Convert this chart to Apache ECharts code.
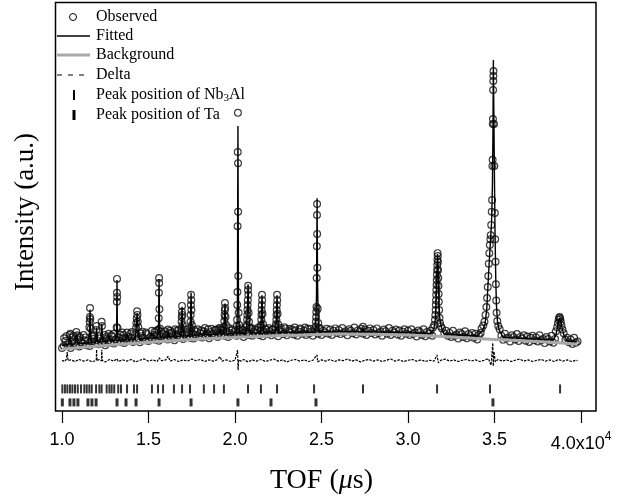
<!DOCTYPE html>
<html><head><meta charset="utf-8">
<script src="https://cdn.jsdelivr.net/npm/echarts@6/dist/echarts.min.js"></script>
<style>html,body{margin:0;padding:0;background:#fff}#c{width:618px;height:504px}</style>
</head><body><div id="c"></div>
<script>
// ---- data (TOF in units of 10^4 us, intensity in arbitrary units) ----
const xTicks = [1.0, 1.5, 2.0, 2.5, 3.0, 3.5, 4.0];
const xExponent = '4';

const observedBase = [[1.00,15.4],[1.01,15.9],[1.02,17.1],[1.03,16.1],[1.04,16.4],[1.05,15.4],[1.06,17.0],[1.07,16.6],[1.08,16.0],[1.09,17.5],
[1.10,15.8],[1.11,16.8],[1.12,16.5],[1.13,17.3],[1.14,16.1],[1.15,17.2],[1.16,15.9],[1.17,17.0],[1.18,17.6],[1.19,16.5],
[1.20,17.3],[1.21,16.3],[1.22,17.8],[1.23,16.8],[1.24,17.1],[1.25,16.1],[1.26,17.7],[1.27,17.3],[1.28,16.7],[1.29,18.2],
[1.30,16.5],[1.31,17.5],[1.32,17.1],[1.33,18.0],[1.34,16.8],[1.35,17.8],[1.36,16.6],[1.37,17.6],[1.38,18.2],[1.39,17.2],
[1.40,17.9],[1.41,16.9],[1.42,18.5],[1.43,17.4],[1.44,17.7],[1.45,16.8],[1.46,18.3],[1.47,17.9],[1.48,17.3],[1.49,18.8],
[1.50,17.1],[1.51,18.1],[1.52,17.8],[1.53,18.6],[1.54,17.4],[1.55,18.4],[1.56,17.2],[1.57,18.2],[1.58,18.8],[1.59,17.7],
[1.60,18.5],[1.61,17.5],[1.62,19.0],[1.63,18.0],[1.64,18.3],[1.65,17.3],[1.66,18.8],[1.67,18.5],[1.68,17.9],[1.69,19.3],
[1.70,17.6],[1.71,18.7],[1.72,18.3],[1.73,19.1],[1.74,17.9],[1.75,19.0],[1.76,17.7],[1.77,18.7],[1.78,19.4],[1.79,18.3],
[1.80,19.0],[1.81,18.0],[1.82,19.5],[1.83,18.5],[1.84,18.8],[1.85,17.8],[1.86,19.3],[1.87,18.9],[1.88,18.4],[1.89,19.8],
[1.90,18.1],[1.91,19.1],[1.92,18.7],[1.93,19.6],[1.94,18.4],[1.95,19.4],[1.96,18.1],[1.97,19.1],[1.98,19.7],[1.99,18.7],
[2.00,19.4],[2.01,18.4],[2.02,19.9],[2.03,18.8],[2.04,19.1],[2.05,18.1],[2.06,19.6],[2.07,19.2],[2.08,18.6],[2.09,20.1],
[2.10,18.4],[2.11,19.4],[2.12,19.0],[2.13,19.8],[2.14,18.6],[2.15,19.6],[2.16,18.3],[2.17,19.3],[2.18,19.9],[2.19,18.8],
[2.20,19.5],[2.21,18.5],[2.22,20.0],[2.23,19.0],[2.24,19.3],[2.25,18.3],[2.26,19.8],[2.27,19.4],[2.28,18.8],[2.29,20.2],
[2.30,18.5],[2.31,19.5],[2.32,19.1],[2.33,19.9],[2.34,18.7],[2.35,19.7],[2.36,18.4],[2.37,19.4],[2.38,20.0],[2.39,18.9],
[2.40,19.6],[2.41,18.6],[2.42,20.1],[2.43,19.0],[2.44,19.4],[2.45,18.4],[2.46,19.9],[2.47,19.5],[2.48,18.9],[2.49,20.3],
[2.50,18.6],[2.51,19.6],[2.52,19.2],[2.53,20.1],[2.54,18.9],[2.55,19.9],[2.56,18.6],[2.57,19.6],[2.58,20.2],[2.59,19.1],
[2.60,19.8],[2.61,18.8],[2.62,20.3],[2.63,19.2],[2.64,19.5],[2.65,18.5],[2.66,20.0],[2.67,19.6],[2.68,19.0],[2.69,20.4],
[2.70,18.7],[2.71,19.7],[2.72,19.3],[2.73,20.1],[2.74,18.9],[2.75,19.9],[2.76,18.6],[2.77,19.6],[2.78,20.2],[2.79,19.1],
[2.80,19.8],[2.81,18.7],[2.82,20.2],[2.83,19.1],[2.84,19.4],[2.85,18.4],[2.86,19.9],[2.87,19.5],[2.88,18.9],[2.89,20.3],
[2.90,18.6],[2.91,19.6],[2.92,19.2],[2.93,19.9],[2.94,18.7],[2.95,19.7],[2.96,18.4],[2.97,19.4],[2.98,20.0],[2.99,18.9],
[3.00,19.6],[3.01,18.6],[3.02,20.0],[3.03,18.9],[3.04,19.2],[3.05,18.2],[3.06,19.7],[3.07,19.3],[3.08,18.6],[3.09,20.0],
[3.10,18.3],[3.11,19.3],[3.12,18.9],[3.13,19.6],[3.14,18.4],
[3.21,19.0],[3.22,19.6],[3.23,18.4],[3.24,19.1],[3.25,18.1],[3.26,19.6],[3.27,18.4],[3.28,18.7],[3.29,17.7],
[3.30,19.2],[3.31,18.8],[3.32,18.1],[3.33,19.5],[3.34,17.8],[3.35,18.8],[3.36,18.3],[3.37,19.1],[3.38,17.9],[3.39,18.9],
[3.40,17.5],[3.41,18.5],[3.42,19.1],
[3.54,18.4],[3.55,17.4],[3.56,18.9],[3.57,17.8],[3.58,18.0],[3.59,17.0],
[3.60,18.5],[3.61,18.1],[3.62,17.5],[3.63,18.8],[3.64,17.1],[3.65,18.1],[3.66,17.7],[3.67,18.5],[3.68,17.2],[3.69,18.2],
[3.70,16.9],[3.71,17.9],[3.72,18.4],[3.73,17.3],[3.74,18.0],[3.75,17.0],[3.76,18.5],[3.77,17.3],[3.78,17.6],[3.79,16.6],
[3.80,18.1],[3.81,17.6],[3.82,17.0],[3.83,18.4],[3.84,16.7],[3.85,17.6],
[3.91,17.4],[3.92,17.9],[3.93,16.8],[3.94,17.5],[3.95,16.4],[3.96,17.9],[3.97,16.7],[3.98,17.0]];

// weak unresolved reflections riding on the baseline (1.0 - 2.45)
const observedWeak = [[1.012,17.8],[1.025,18.3],[1.055,17.9],[1.065,18.4],[1.098,18.2],[1.105,17.9],[1.125,18.6],[1.135,18.0],[1.172,18.2],[1.185,18.5],[1.212,18.3],[1.245,18.6],[1.255,18.1],[1.285,18.5],[1.298,18.9],[1.335,18.7],[1.348,19.2],[1.355,18.6],[1.395,18.9],[1.405,19.3],[1.455,19.0],[1.465,19.4],[1.485,19.2],[1.535,19.3],[1.545,19.6],[1.575,19.4],[1.595,19.5],[1.625,19.6],[1.635,19.2],[1.665,19.7],[1.675,19.8],[1.715,19.9],[1.725,19.4],[1.765,19.8],[1.785,20.0],[1.805,19.7],[1.845,20.0],[1.865,20.1],[1.885,19.8],[1.905,20.2],[1.925,19.9],[1.965,20.3],[1.985,20.0],[2.035,20.2],[2.045,19.8],[2.095,20.3],[2.115,20.0],[2.135,20.4],[2.175,20.1],[2.195,20.3],[2.215,19.9],[2.265,20.3],[2.285,20.5],[2.315,20.1],[2.345,20.4],[2.375,20.2],[2.405,20.4],[2.435,20.1]];

const observedPeaks = [[1.044,18.6],[1.048,18.9],[1.083,19.3],[1.088,18.5],
[1.158,20.5],[1.160,21.8],[1.161,23.0],[1.162,25.2],[1.164,22.5],[1.166,20.2],
[1.198,19.8],[1.200,20.8],[1.229,21.8],[1.231,20.8],[1.270,18.9],
[1.316,20.5],[1.317,26.7],[1.3175,28.9],[1.318,32.3],[1.319,27.9],[1.321,20.3],[1.376,19.2],
[1.428,20.3],[1.430,21.5],[1.432,22.7],[1.434,24.4],[1.436,23.5],[1.438,21.8],[1.441,20.5],[1.520,19.6],
[1.557,19.9],[1.559,22.7],[1.560,28.9],[1.561,32.5],[1.5615,31.3],[1.563,24.9],[1.566,20.2],
[1.613,19.9],[1.654,20.0],
[1.689,20.2],[1.691,21.8],[1.692,23.0],[1.693,24.2],[1.694,25.7],[1.696,23.5],[1.698,21.0],
[1.741,20.3],[1.743,21.8],[1.744,23.5],[1.745,25.9],[1.746,28.4],[1.747,27.1],[1.748,24.7],[1.751,21.0],
[1.826,20.3],[1.913,20.3],[1.917,19.9],
[1.936,20.5],[1.938,22.0],[1.940,23.5],[1.941,24.6],[1.942,26.4],[1.943,25.2],[1.945,23.0],[1.948,21.0],
[2.010,20.8],[2.012,22.3],[2.013,25.9],[2.014,29.1],[2.015,45.2],[2.016,63.3],[2.017,72.9],[2.0175,60.6],[2.018,48.7],[2.019,33.0],[2.021,24.0],[2.024,21.0],
[2.066,20.5],[2.068,21.0],[2.070,22.3],[2.071,23.5],[2.072,24.7],[2.073,25.9],[2.074,27.1],[2.075,29.6],[2.076,30.6],[2.077,28.4],[2.079,24.0],[2.081,21.8],[2.084,20.4],
[2.148,20.5],[2.150,21.0],[2.152,22.3],[2.153,23.5],[2.154,24.7],[2.155,25.9],[2.156,28.4],[2.157,27.1],[2.159,23.8],[2.162,21.2],
[2.235,20.5],[2.237,21.2],[2.239,22.3],[2.240,23.5],[2.241,24.7],[2.242,25.9],[2.243,28.4],[2.244,27.1],[2.246,23.8],[2.249,21.2],
[2.466,20.6],[2.468,21.8],[2.469,23.0],[2.470,24.2],[2.471,25.4],[2.472,32.5],[2.473,40.3],[2.474,47.9],[2.4745,50.6],[2.475,43.3],[2.476,35.0],[2.478,25.0],[2.481,21.5],[2.485,20.2],
[2.740,20.6],
[3.145,20.4],[3.152,21.0],[3.156,22.3],[3.158,23.5],[3.160,24.7],[3.161,26.0],[3.162,27.1],[3.163,28.4],[3.164,29.6],[3.165,30.8],[3.166,32.0],[3.167,33.3],[3.168,34.5],[3.169,35.7],[3.170,37.0],[3.171,38.6],[3.172,37.9],[3.173,36.4],[3.174,34.5],[3.175,32.5],[3.176,30.6],[3.177,28.6],[3.178,26.7],[3.180,24.7],[3.182,22.8],[3.185,21.5],[3.190,20.7],[3.197,20.2],
[3.425,20.2],[3.435,20.9],[3.442,21.8],[3.448,23.5],[3.453,25.4],[3.457,27.6],[3.461,30.3],[3.464,33.0],[3.467,36.0],[3.470,38.6],[3.473,40.6],[3.476,42.0],[3.478,43.0],[3.481,45.5],[3.484,48.7],[3.486,51.6],[3.488,59.9],[3.489,61.4],[3.490,70.2],[3.491,71.4],[3.492,78.5],[3.493,80.7],[3.4935,81.9],[3.494,83.1],
[3.497,70.2],[3.499,59.9],[3.502,48.4],[3.504,42.0],[3.506,36.5],[3.508,31.0],[3.510,27.0],[3.512,24.0],[3.516,22.0],[3.522,20.8],[3.530,20.0],
[3.855,19.5],[3.862,20.5],[3.867,21.5],[3.871,22.3],[3.874,22.8],[3.877,23.0],[3.880,22.5],[3.883,21.8],[3.887,20.9],[3.893,19.9],[3.900,19.0]];

const fitted = [[1.000,16.0],[1.038,16.29],[1.046,18.2],[1.054,16.34],[1.076,16.42],[1.085,18.6],[1.094,16.48],[1.120,16.57],[1.155,16.69],[1.159,19.5],[1.162,24.8],[1.165,19.5],[1.170,16.75],[1.195,16.83],[1.200,20.4],[1.205,16.87],[1.224,16.93],[1.230,21.3],[1.236,16.97],[1.262,17.05],[1.270,18.3],[1.278,17.11],[1.312,17.22],[1.316,20.0],[1.318,32.0],[1.320,20.0],[1.325,17.26],[1.368,17.4],[1.376,18.8],[1.384,17.45],[1.422,17.56],[1.428,19.5],[1.434,24.0],[1.440,19.5],[1.447,17.64],[1.512,17.82],[1.520,19.0],[1.528,17.87],[1.553,17.93],[1.558,21.0],[1.561,32.3],[1.564,21.0],[1.569,17.98],[1.608,18.09],[1.613,19.6],[1.618,18.12],[1.648,18.2],[1.654,19.6],[1.660,18.23],[1.686,18.3],[1.690,20.5],[1.694,25.5],[1.698,20.5],[1.702,18.35],[1.738,18.44],[1.742,21.0],[1.746,29.0],[1.750,21.0],[1.755,18.49],[1.820,18.64],[1.826,20.2],[1.832,18.66],[1.909,18.81],[1.915,20.0],[1.921,18.83],[1.934,18.85],[1.938,21.5],[1.942,26.3],[1.946,21.5],[1.951,18.88],[2.008,18.98],[2.012,21.5],[2.014,27.0],[2.0155,50.0],[2.017,69.7],[2.0185,48.0],[2.020,28.0],[2.023,21.5],[2.027,19.0],[2.062,19.02],[2.068,21.0],[2.072,25.0],[2.0755,31.0],[2.079,25.0],[2.083,21.0],[2.088,19.05],[2.145,19.1],[2.150,21.0],[2.153,24.0],[2.156,28.3],[2.159,24.0],[2.162,21.0],[2.167,19.12],[2.232,19.15],[2.237,21.0],[2.240,24.0],[2.243,28.3],[2.246,24.0],[2.249,21.0],[2.254,19.16],[2.350,19.19],[2.462,19.27],[2.467,21.5],[2.471,28.0],[2.4745,52.0],[2.477,32.0],[2.481,22.0],[2.487,19.3],[2.600,19.43],[2.735,19.38],[2.740,20.4],[2.745,19.37],[2.850,19.31],[3.000,19.18],[3.130,18.93],[3.150,20.1],[3.158,22.5],[3.164,29.0],[3.169,36.5],[3.171,38.4],[3.174,35.0],[3.178,27.0],[3.184,22.5],[3.195,20.1],[3.210,18.78],[3.300,18.57],[3.400,18.33],[3.430,19.6],[3.445,21.2],[3.455,24.8],[3.465,33.0],[3.475,40.5],[3.483,46.0],[3.488,55.0],[3.491,68.0],[3.4935,85.8],[3.496,74.0],[3.499,60.0],[3.503,44.0],[3.507,33.0],[3.511,26.0],[3.517,22.0],[3.527,19.8],[3.550,18.0],[3.700,17.69],[3.840,17.36],[3.855,18.6],[3.867,21.3],[3.877,22.8],[3.887,21.0],[3.900,18.6],[3.920,17.12],[3.980,16.9]];

const background = [[1.0,15.16],[1.2,15.85],[1.4,16.5],[1.6,17.07],[1.8,17.6],[2.0,17.97],[2.2,18.34],[2.4,18.6],[2.6,18.83],[2.8,18.75],[3.0,18.58],[3.2,18.2],[3.4,17.73],[3.6,17.3],[3.8,16.87],[3.98,16.3]];

const delta = [[1.00,12.4],[1.015,12.1],[1.025,12.6],[1.03,14.4],[1.035,12.3],[1.05,12.5],[1.075,12.1],[1.10,12.6],[1.125,12.2],[1.15,12.5],[1.175,12.0],[1.198,12.4],[1.200,15.0],[1.202,12.3],[1.215,12.6],[1.228,12.2],[1.230,15.0],[1.232,12.4],[1.25,12.0],[1.275,12.6],[1.30,12.2],[1.318,12.8],[1.325,12.1],[1.35,12.5],[1.375,12.2],[1.40,12.6],[1.425,12.0],[1.45,12.4],[1.475,12.7],[1.50,12.2],[1.525,12.5],[1.55,12.1],[1.561,13.0],[1.575,12.3],[1.60,12.5],[1.613,13.4],[1.625,12.2],[1.65,12.6],[1.675,12.1],[1.70,12.5],[1.725,12.2],[1.75,12.7],[1.775,12.3],[1.80,12.6],[1.825,12.1],[1.85,12.5],[1.875,12.2],[1.90,12.6],[1.913,13.3],[1.925,12.2],[1.95,12.5],[1.975,12.1],[2.00,12.4],[2.015,14.9],[2.018,10.0],[2.021,12.5],[2.035,12.2],[2.05,12.6],[2.075,12.0],[2.10,12.5],[2.125,12.2],[2.15,12.6],[2.175,12.1],[2.20,12.4],[2.225,12.7],[2.25,12.2],[2.275,12.5],[2.30,12.0],[2.325,12.4],[2.35,12.6],[2.375,12.2],[2.40,12.5],[2.425,12.1],[2.45,12.4],[2.474,13.7],[2.478,12.0],[2.50,12.5],[2.525,12.2],[2.55,12.6],[2.575,12.1],[2.60,12.5],[2.625,12.3],[2.65,12.7],[2.675,12.2],[2.70,12.5],[2.725,12.0],[2.75,12.4],[2.775,12.6],[2.80,12.2],[2.825,12.5],[2.85,12.1],[2.875,12.4],[2.90,12.7],[2.925,12.2],[2.95,12.5],[2.975,12.1],[3.00,12.4],[3.025,12.6],[3.05,12.2],[3.075,12.5],[3.10,12.1],[3.125,12.4],[3.15,12.2],[3.168,13.7],[3.175,11.8],[3.19,12.4],[3.215,12.7],[3.24,12.2],[3.265,12.5],[3.29,12.1],[3.315,12.4],[3.34,12.6],[3.365,12.2],[3.39,12.5],[3.415,12.1],[3.44,12.4],[3.465,12.8],[3.48,11.2],[3.486,10.8],[3.490,16.6],[3.493,11.0],[3.497,14.5],[3.505,12.0],[3.52,12.6],[3.545,12.2],[3.57,12.5],[3.595,12.1],[3.62,12.4],[3.645,12.7],[3.67,12.2],[3.695,12.5],[3.72,12.1],[3.745,12.4],[3.77,12.6],[3.795,12.2],[3.82,12.5],[3.845,12.1],[3.87,12.6],[3.895,12.2],[3.92,12.5],[3.945,12.1],[3.97,12.4],[3.98,12.3]];

const nb3alPeaks = [1.002,1.017,1.031,1.046,1.060,1.075,1.091,1.110,1.129,1.143,1.158,1.172,1.197,1.216,1.229,1.258,1.274,1.287,1.302,1.325,1.341,1.376,1.416,1.434,1.520,1.555,1.584,1.647,1.694,1.740,1.820,1.879,1.936,2.075,2.150,2.243,2.457,2.740,3.168,3.474,3.879];
const taPeaks = [1.002,1.046,1.069,1.092,1.150,1.173,1.197,1.318,1.370,1.428,1.561,1.746,2.017,2.208,2.468,3.491];

// ---- chart ----
const SERIF = '"Liberation Serif","Times New Roman",serif';
const SANS = '"Liberation Sans",Arial,sans-serif';
const NB_ROW = 5.4, TA_ROW = 2.1;

const chart = echarts.init(document.getElementById('c'), null, {renderer: 'canvas'});
const lastTick = xTicks[xTicks.length - 1];

const legendRows = [17, 36, 55, 75, 95, 115];
const legendText = ['Observed', 'Fitted', 'Background', 'Delta', '{t|Peak position of Nb}{s|3}{t|Al}', 'Peak position of Ta'];

const graphics = [
  {type: 'rect', shape: {x: 55.5, y: 2.5, width: 540.5, height: 408.5}, style: {fill: 'none', stroke: '#000', lineWidth: 1.5}, z: 10},
  {type: 'circle', shape: {cx: 73, cy: legendRows[0], r: 3.5}, style: {fill: 'none', stroke: '#000', lineWidth: 1}, z: 10},
  {type: 'line', shape: {x1: 57, y1: legendRows[1], x2: 90, y2: legendRows[1]}, style: {stroke: '#000', lineWidth: 1.3}, z: 10},
  {type: 'line', shape: {x1: 57, y1: legendRows[2], x2: 90, y2: legendRows[2]}, style: {stroke: '#a8a8a8', lineWidth: 3}, z: 10},
  {type: 'line', shape: {x1: 57, y1: legendRows[3], x2: 90, y2: legendRows[3]}, style: {stroke: '#000', lineWidth: 1, lineDash: [5, 6]}, z: 10},
  {type: 'rect', shape: {x: 73, y: legendRows[4] - 5, width: 2, height: 10}, style: {fill: '#000'}, z: 10},
  {type: 'rect', shape: {x: 72.5, y: legendRows[5] - 5, width: 3, height: 10}, style: {fill: '#000'}, z: 10}
];
legendText.forEach((t, i) => {
  graphics.push({
    type: 'text', x: 96, y: legendRows[i], z: 10,
    style: {
      text: t, fill: '#000', font: '16px ' + SERIF, align: 'left', verticalAlign: 'middle',
      rich: {t: {fontFamily: SERIF, fontSize: 16, fill: '#000'}, s: {fontFamily: SERIF, fontSize: 11, fill: '#000', padding: [7, 0, 0, 0]}}
    }
  });
});

const option = {
  animation: false,
  backgroundColor: '#fff',
  grid: {left: 62, right: 37, top: 2, bottom: 93},
  xAxis: {
    type: 'value', min: xTicks[0], max: lastTick, interval: 0.5, offset: 4,
    axisLine: {show: true, lineStyle: {color: 'rgba(0,0,0,0)'}},
    axisTick: {show: true, length: 12, lineStyle: {color: '#000', width: 1.2}},
    splitLine: {show: false},
    axisLabel: {
      margin: 16, color: '#000', fontFamily: SANS, fontSize: 18,
      formatter: v => v === lastTick ? '{b|' + v.toFixed(1) + 'x10}{s|' + xExponent + '}' : v.toFixed(1),
      rich: {b: {fontFamily: SANS, fontSize: 18, color: '#000'}, s: {fontFamily: SANS, fontSize: 12, color: '#000', padding: [0, 0, 14, 0]}}
    },
    name: '{n|TOF (}{i|μ}{n|s)}', nameLocation: 'middle', nameGap: 52,
    nameTextStyle: {rich: {n: {fontFamily: SERIF, fontSize: 28, color: '#000'}, i: {fontFamily: SERIF, fontSize: 28, fontStyle: 'italic', color: '#000'}}}
  },
  yAxis: {
    type: 'value', min: 0, max: 100,
    axisLine: {show: false}, axisTick: {show: false}, axisLabel: {show: false}, splitLine: {show: false},
    name: 'Intensity (a.u.)', nameLocation: 'middle', nameGap: 23, nameRotate: 90,
    nameTextStyle: {fontFamily: SERIF, fontSize: 27, color: '#000', padding: [0, 11, 0, 0]}
  },
  series: [
    {type: 'scatter', name: 'Observed', data: observedBase.concat(observedWeak, observedPeaks), symbol: 'circle', symbolSize: 6.8,
     itemStyle: {color: 'rgba(0,0,0,0)', borderColor: '#111', borderWidth: 1.2}, silent: true, z: 2},
    {type: 'line', name: 'Fitted', data: fitted, symbol: 'none', lineStyle: {color: '#000', width: 1.4}, silent: true, z: 3},
    {type: 'line', name: 'Background', data: background, symbol: 'none', smooth: true, lineStyle: {color: '#a8a8a8', width: 3}, silent: true, z: 4},
    {type: 'line', name: 'Delta', data: delta, symbol: 'none', lineStyle: {color: '#000', width: 1.2, type: [2.5, 1.2]}, silent: true, z: 4},
    {type: 'scatter', name: 'Nb3Al', data: nb3alPeaks.map(t => [t, NB_ROW]), symbol: 'rect', symbolSize: [2, 9], itemStyle: {color: '#000'}, silent: true, z: 5},
    {type: 'scatter', name: 'Ta', data: taPeaks.map(t => [t, TA_ROW]), symbol: 'rect', symbolSize: [3, 8], itemStyle: {color: '#000'}, silent: true, z: 5}
  ],
  graphic: graphics
};
chart.setOption(option);
</script></body></html>
